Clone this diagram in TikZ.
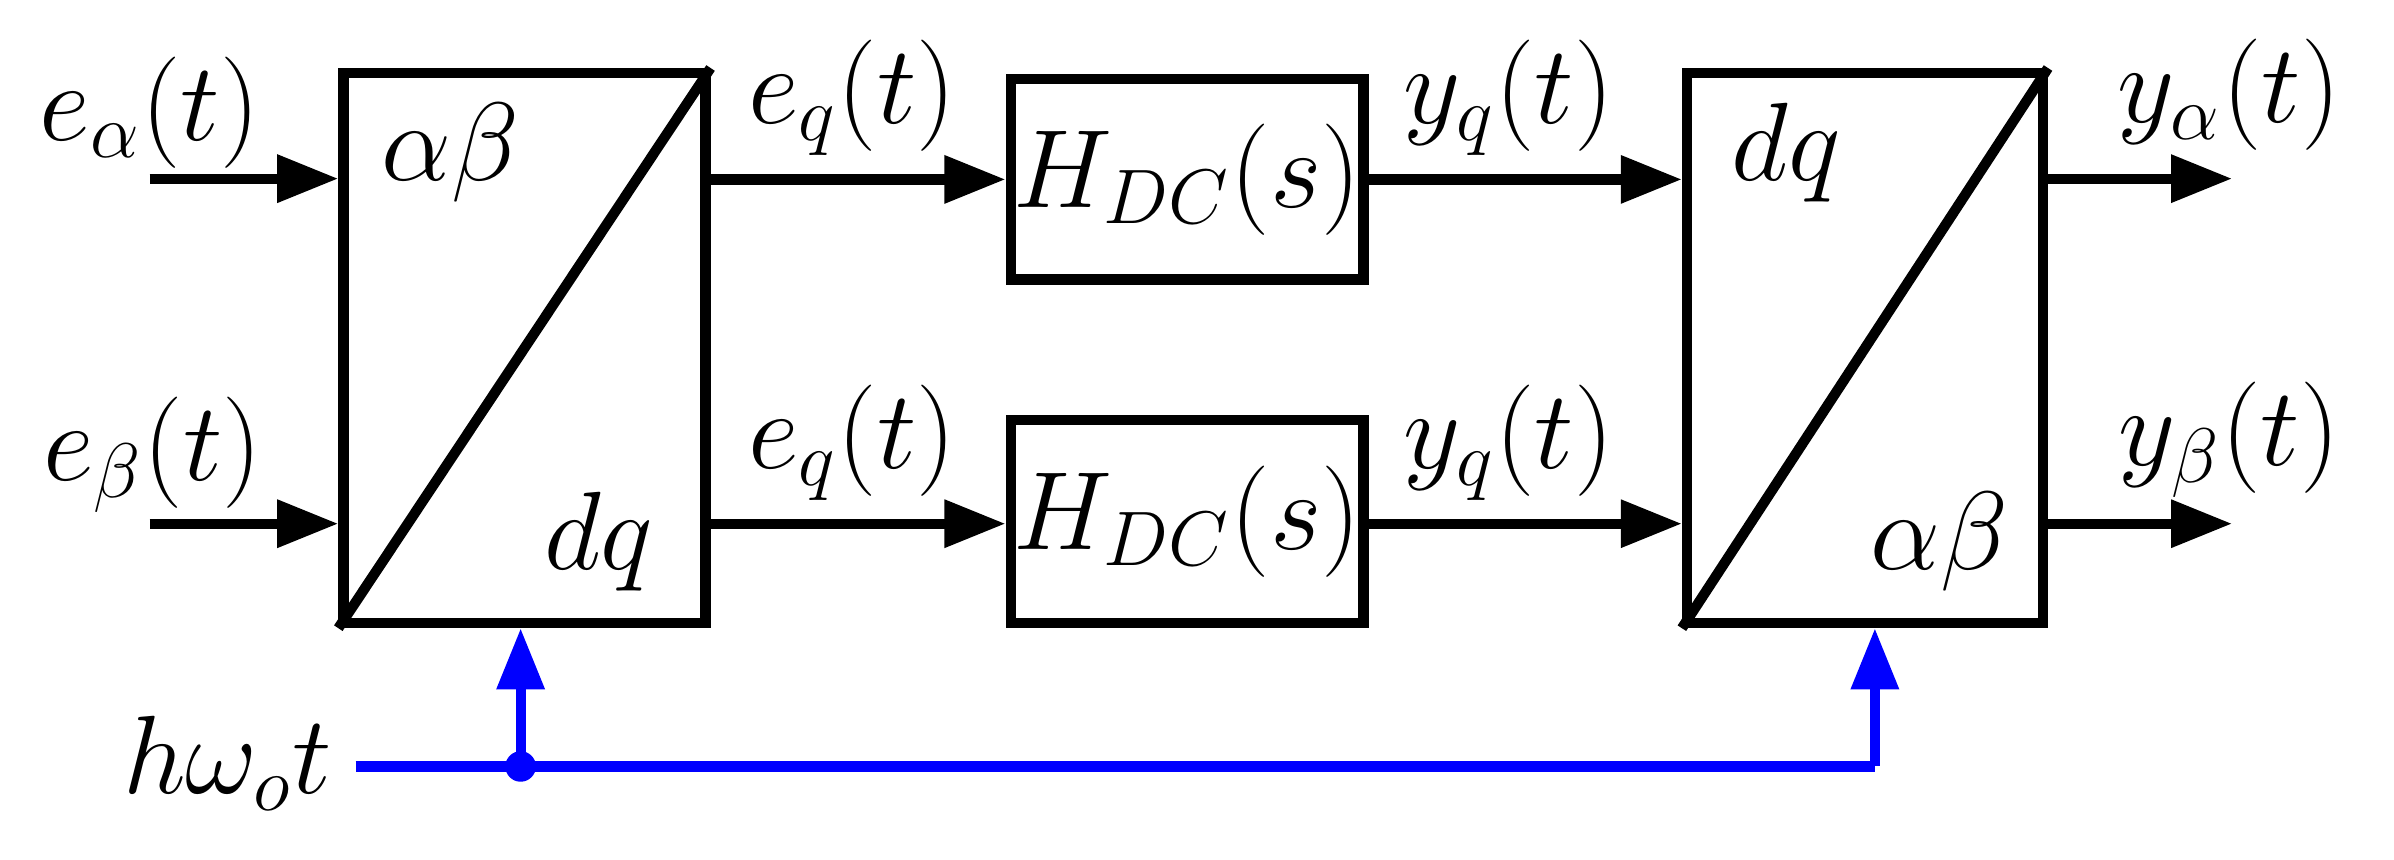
\documentclass[tikz,border=0pt]{standalone}
\usetikzlibrary{arrows.meta}
\begin{document}
\begin{tikzpicture}[x=0.01cm,y=-0.01cm,line width=1.9pt,
  lbl/.style={font=\fontsize{22}{25}\selectfont},
  arr/.style={-{Triangle[length=0.4cm,width=0.3cm]}},
  blu/.style={draw=blue,color=blue}]
\useasboundingbox (0,0) rectangle (1568,563);
\node[draw,minimum width=2.37cm,minimum height=3.6cm,inner sep=0] (b1) at (343.5,228) {};
\node[draw,minimum width=2.33cm,minimum height=3.6cm,inner sep=0] (b2) at (1221.5,228) {};
\node[draw,minimum width=2.31cm,minimum height=1.31cm,inner sep=0,lbl] (h1) at (777.5,117.5) {$H_{DC}(s)$};
\node[draw,minimum width=2.31cm,minimum height=1.33cm,inner sep=0,lbl] (h2) at (777.5,341.5) {$H_{DC}(s)$};
\draw (b1.south west) -- (b1.north east);
\draw (b2.south west) -- (b2.north east);
\node[lbl] (t1) at (295,100) {$\alpha\beta$};
\node[lbl] (t2) at (392,355) {$dq$};
\node[lbl] (t3) at (1170,100) {$dq$};
\node[lbl] (t4) at (1270,355) {$\alpha\beta$};
\coordinate (ia) at (98,117); \coordinate (ib) at (98,343);
\coordinate (oa) at (1462,117); \coordinate (ob) at (1462,343);
\draw[arr] (ia) -- (ia -| b1.west);
\draw[arr] (ib) -- (ib -| b1.west);
\draw[arr] (b1.east |- h1) -- (h1.west);
\draw[arr] (b1.east |- ib) -- (h2.west |- ib);
\draw[arr] (h1.east) -- (b2.west |- h1);
\draw[arr] (h2.east |- ib) -- (b2.west |- ib);
\draw[arr] (b2.east |- ia) -- (oa);
\draw[arr] (b2.east |- ib) -- (ob);
\node[lbl] (la) at (98,74) {$e_\alpha(t)$};
\node[lbl] (lb) at (100,298) {$e_\beta(t)$};
\node[lbl] (l1) at (558,64) {$e_q(t)$};
\node[lbl] (l2) at (558,290) {$e_q(t)$};
\node[lbl] (l3) at (988,64) {$y_q(t)$};
\node[lbl] (l4) at (988,290) {$y_q(t)$};
\node[lbl] (l5) at (1460,62) {$y_\alpha(t)$};
\node[lbl] (l6) at (1460,288) {$y_\beta(t)$};
\node[lbl,anchor=east,inner sep=2pt] (hw) at (228,500) {$h\omega_o t$};
\coordinate (d) at (341,502); \coordinate (e) at (1228,502);
\draw[blu] (233,502) -- (e);
\fill[blue] (d) circle (0.1cm);
\draw[blu,arr] (d) -- (d |- b1.south);
\draw[blu,arr] (e) -- (e |- b2.south);
\end{tikzpicture}
\end{document}
